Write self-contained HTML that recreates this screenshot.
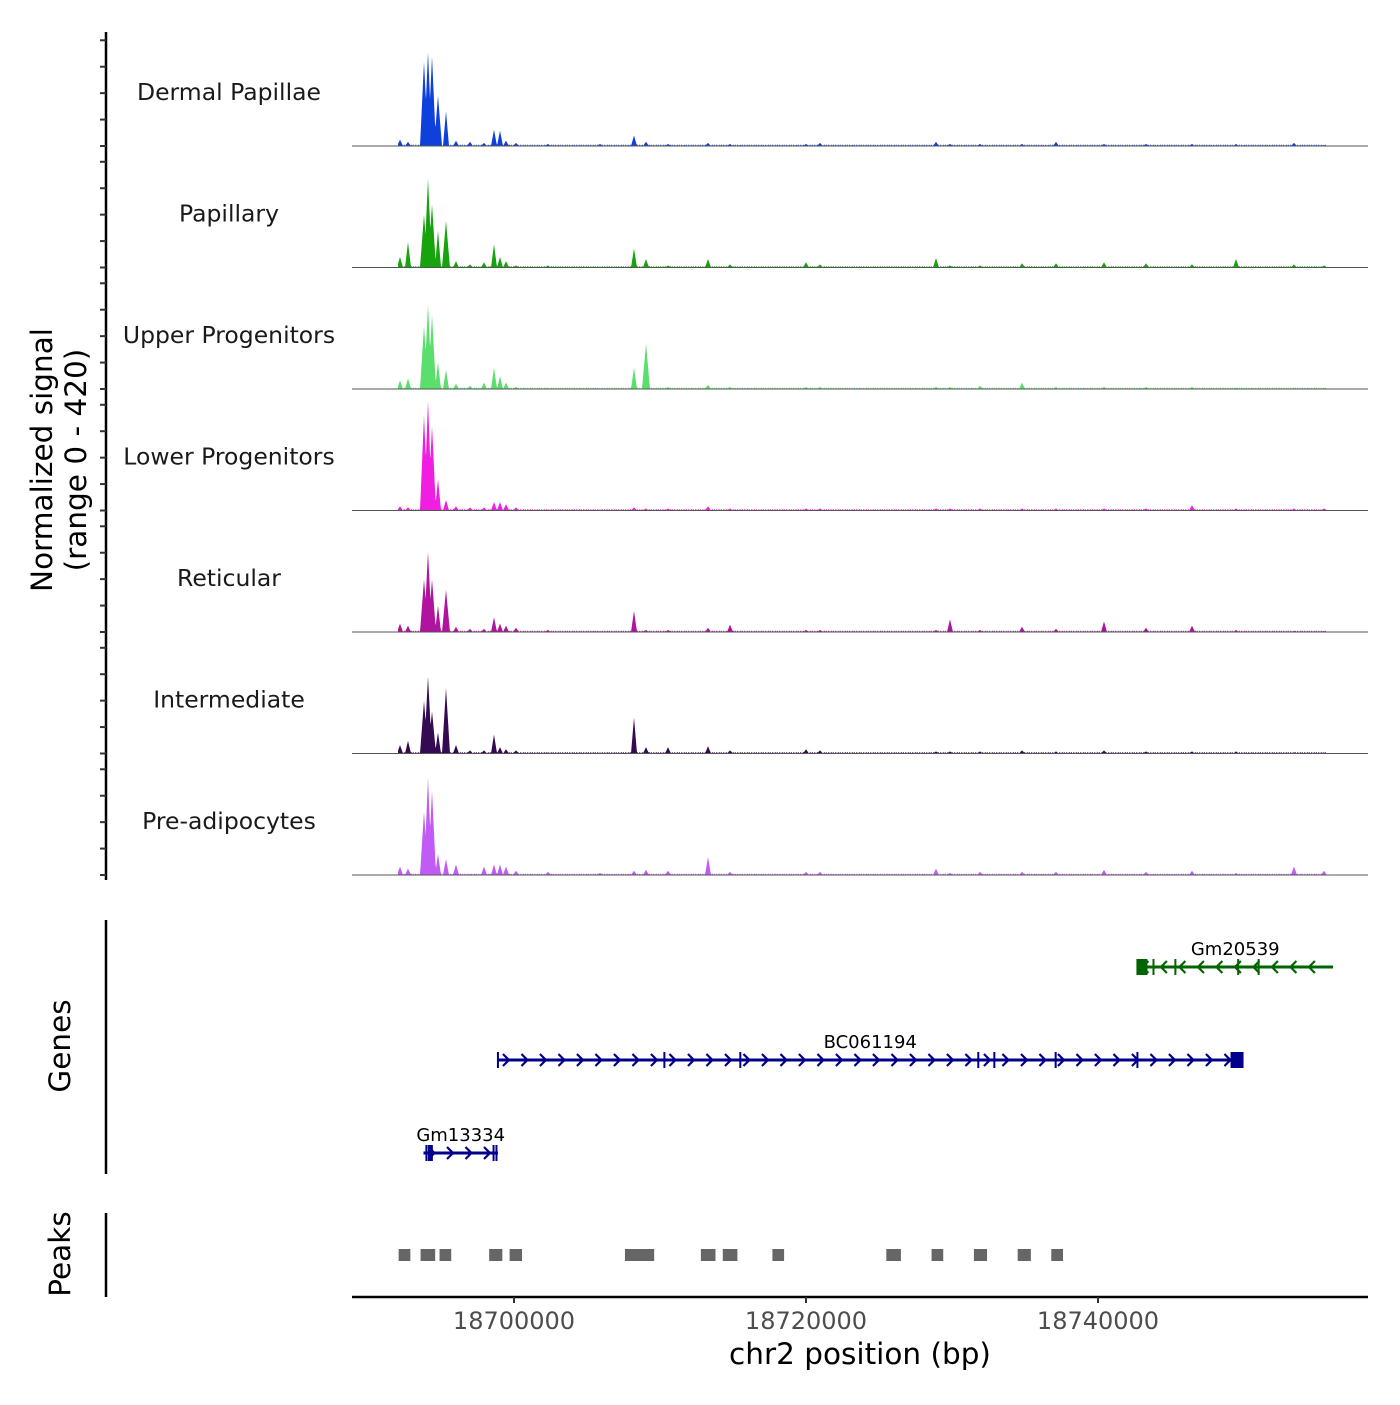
<!DOCTYPE html>
<html><head><meta charset="utf-8"><style>
body{margin:0;background:#fff}
svg text{font-family:"DejaVu Sans","Liberation Sans",sans-serif}
</style></head><body>
<svg id="chart" width="1400" height="1400" viewBox="0 0 1400 1400" xmlns="http://www.w3.org/2000/svg">
<g id="tracks"></g>
<g id="genes"></g>
<g id="peaks"></g>
<g id="axes"></g>
</svg>
<script>
const trackNames=["Dermal Papillae","Papillary","Upper Progenitors","Lower Progenitors","Reticular","Intermediate","Pre-adipocytes"];
const trackColors=["#1040dc","#16a30c","#5ade6c","#f01ee0","#b0149e","#360a50","#c05cf5"];
const peakPos=[18692192,18692740,18693836,18694110,18694384,18694794,18695342,18696027,18696986,18697945,18698630,18699041,18699452,18700137,18702329,18705890,18708219,18709041,18710548,18713288,18714795,18720000,18720959,18728904,18729863,18731918,18734795,18737123,18740411,18743288,18746438,18749452,18753425,18755479];
const sigDermal=[24,16,320,356,340,190,132,20,16,12,62,58,20,12,8,8,40,16,8,12,8,8,12,16,8,8,8,16,8,8,8,8,12,4];
const sigPapillary=[40,96,200,336,240,140,176,24,12,20,88,40,24,8,8,4,72,32,8,32,12,20,12,36,8,8,16,16,20,16,12,32,12,8];
const sigUpper=[32,40,240,320,280,100,72,20,12,24,80,48,24,8,4,4,80,172,8,16,8,8,8,8,8,12,24,8,8,8,8,4,4,4];
const sigLower=[16,12,360,416,320,120,40,16,12,12,32,32,24,12,4,4,12,8,8,16,8,8,8,8,8,8,8,8,8,8,20,8,8,8];
const sigReticular=[32,24,200,304,200,100,160,20,12,12,56,32,24,16,8,4,80,8,8,16,28,8,8,8,48,8,20,12,40,16,24,8,4,4];
const sigIntermediate=[32,48,200,292,160,80,248,32,12,12,72,24,16,12,4,4,136,24,24,28,12,16,12,8,8,8,12,8,12,8,8,8,4,4];
const sigPre=[32,24,240,368,320,80,60,40,4,32,40,40,32,16,12,8,16,20,16,68,12,12,12,24,8,12,12,12,20,12,16,8,32,16];
const trackSignals=[sigDermal,sigPapillary,sigUpper,sigLower,sigReticular,sigIntermediate,sigPre];
const xTicks=[18700000,18720000,18740000];
const xTickLabels=["18700000","18720000","18740000"];
const geneNames=["Gm20539","BC061194","Gm13334"];
const geneStart=[18742700,18698900,18693800];
const geneEnd=[18756100,18749900,18698900];
const geneStrand=[-1,1,1];
const geneRow=[967,1060,1153];
const geneColor=["#006400","#00008b","#00008b"];
const geneExons=[[18742700,18743800,18745300,18749600,18751000],[18698900,18710300,18715500,18731800,18732900,18737100,18742700,18749350],[18694000,18698600,18698800]];
const peakStart=[18692100,18693600,18694900,18698300,18699700,18707600,18712800,18714300,18717700,18725500,18728600,18731500,18734500,18736800];
const peakEnd=[18692900,18694600,18695700,18699200,18700550,18709600,18713800,18715300,18718500,18726500,18729400,18732400,18735400,18737600];

const NS="http://www.w3.org/2000/svg";
const X0=352,X1=1368,BP0=18688904,BP1=18758493;
function xs(bp){return X0+(bp-BP0)/(BP1-BP0)*(X1-X0);}
const baselines=[146,267.5,389,510.5,632,753.5,875];
const yUnit=111/420;
function mk(tag,attrs,parent){const e=document.createElementNS(NS,tag);for(const k in attrs)e.setAttribute(k,attrs[k]);parent.appendChild(e);return e;}
const gT=document.getElementById('tracks');
trackSignals.forEach((sig,t)=>{
  const b=baselines[t];
  const g=mk('g',{},gT);
  
  
  let d='M398,'+b;
  for(let px=398;px<=1326;px+=0.5){
    let v=0;
    for(let i=0;i<peakPos.length;i++){
      const cx=xs(peakPos[i]);const w=sig[i]>150?4:3;
      const dd=Math.abs(px-cx);
      if(dd<w)v=Math.max(v,sig[i]*(1-dd/w));
    }
    if(v<3)v=(Math.floor(px*3)%7<3)?5:2;
    d+=' L'+px+','+(b-v*yUnit).toFixed(2);
  }
  d+=' L1326,'+b+' Z';
  const p=mk('path',{d:d,fill:trackColors[t]},g);
  
  
  const l=mk('line',{x1:X0,x2:X1,y1:b,y2:b,stroke:'#555','stroke-width':1},g);
  
  
  const tx=mk('text',{x:229,y:b-46,'text-anchor':'middle','font-size':23.5,fill:'#1a1a1a'},g);
  tx.textContent=trackNames[t];
  
  
});
const gG=document.getElementById('genes');
geneNames.forEach((n,i)=>{
  const g=mk('g',{},gG);
  
  
  const y=geneRow[i],c=geneColor[i],a=xs(geneStart[i]),e=xs(geneEnd[i]);
  mk('line',{x1:a,x2:e,y1:y,y2:y,stroke:c,'stroke-width':3},g);
  for(let x=a+8;x<e-6;x+=18.5){
    const s=geneStrand[i];
    mk('path',{d:`M${x-3*s},${y-6} L${x+3*s},${y} L${x-3*s},${y+6}`,fill:'none',stroke:c,'stroke-width':2.2},g);
  }
  geneExons[i].forEach(ex=>{mk('line',{x1:xs(ex),x2:xs(ex),y1:y-8,y2:y+8,stroke:c,'stroke-width':2},g);});
  const bx=geneStrand[i]<0?a:e-12;
  if(i<2)mk('rect',{x:bx,y:y-8,width:i==0?10:13,height:16,fill:c},g);
  else mk('rect',{x:xs(18694100),y:y-8,width:5,height:16,fill:c},g);
  const t=mk('text',{x:(a+e)/2,y:y-12,'text-anchor':'middle','font-size':18,fill:'#000'},g);
  t.textContent=n;
});
const gP=document.getElementById('peaks');
peakStart.forEach((s,i)=>{
  const r=mk('rect',{x:xs(s),y:1249,width:xs(peakEnd[i])-xs(s),height:12,fill:'#666'},gP);
  
  
});
const gA=document.getElementById('axes');
mk('line',{x1:106,x2:106,y1:32,y2:880,stroke:'#000','stroke-width':2.5},gA);
baselines.forEach(b=>{for(let k=0;k<=4;k++){const y=b-k*100*yUnit;mk('line',{x1:100,x2:106,y1:y,y2:y,stroke:'#333','stroke-width':2},gA);}});
mk('line',{x1:106,x2:106,y1:920,y2:1174,stroke:'#000','stroke-width':2.5},gA);
mk('line',{x1:106,x2:106,y1:1213,y2:1297,stroke:'#000','stroke-width':2.5},gA);
mk('line',{x1:352,x2:1368,y1:1297,y2:1297,stroke:'#000','stroke-width':2.5},gA);
xTicks.forEach((v,i)=>{
  mk('line',{x1:xs(v),x2:xs(v),y1:1297,y2:1303,stroke:'#333','stroke-width':2},gA);
  const t=mk('text',{x:xs(v),y:1329,'text-anchor':'middle','font-size':24,fill:'#4d4d4d'},gA);
  t.textContent=xTickLabels[i];
  
  
});
function lab(txt,x,y,rot,size,name){const t=mk('text',{x:x,y:y,'text-anchor':'middle','font-size':size,fill:'#000',transform:rot?`rotate(-90 ${x} ${y})`:''},gA);t.textContent=txt;}
lab('chr2 position (bp)',860,1364,false,29.5,'x-axis-title');
lab('Normalized signal',52,460,true,29.5,'y-axis-title');
lab('(range 0 - 420)',86,460,true,29.5,'y-axis-subtitle');
lab('Genes',70,1046,true,29.5,'genes-label');
lab('Peaks',70,1254,true,29.5,'peaks-label');
</script>
</body></html>
